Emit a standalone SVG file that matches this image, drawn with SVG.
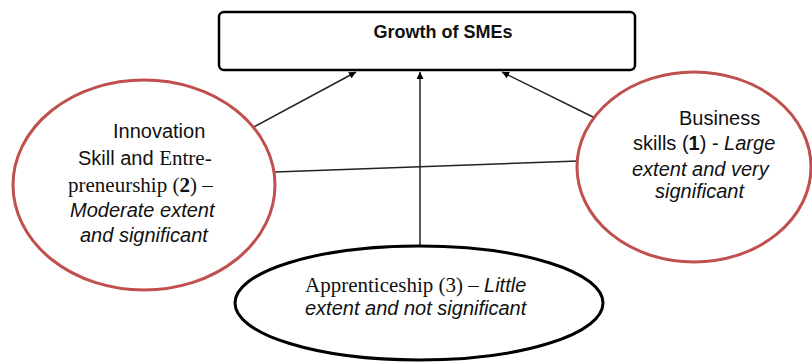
<svg xmlns="http://www.w3.org/2000/svg" width="812" height="363" viewBox="0 0 812 363">
<defs>
<style>
.sans{font-family:"Liberation Sans",Arial,sans-serif;font-size:20px;fill:#111}
.serif{font-family:"Liberation Serif","Times New Roman",serif;font-size:21px;fill:#111}
.it{font-style:italic}
.b{font-weight:bold}
.red{fill:#fff;stroke:#c0504d;stroke-width:3}
.blk{fill:#fff;stroke:#000;stroke-width:3}
.conn{stroke:#222;stroke-width:1.5;fill:none}
</style>
<marker id="arr" viewBox="0 0 10 10" refX="10" refY="5" markerWidth="7" markerHeight="7" markerUnits="userSpaceOnUse" orient="auto">
<path d="M0,0 L10,5 L0,10 z" fill="#000"/>
</marker>
</defs>
<rect width="812" height="363" fill="#fff"/>
<g id="connectors">
<line class="conn" x1="252" y1="128" x2="356" y2="72" marker-end="url(#arr)"/>
<line class="conn" x1="420" y1="246" x2="420" y2="72" marker-end="url(#arr)"/>
<line class="conn" x1="595" y1="118" x2="502" y2="72" marker-end="url(#arr)"/>
<line class="conn" x1="275" y1="172" x2="578" y2="161"/>
</g>
<g id="growth">
<rect x="219" y="12" width="416" height="58" rx="5" fill="#fff" stroke="#000" stroke-width="2.5"/>
<text class="sans b" x="443" y="38" text-anchor="middle" style="font-size:18px">Growth of SMEs</text>
</g>
<g id="innovation">
<ellipse class="red" cx="144" cy="185" rx="131" ry="105"/>
<text class="sans" x="113" y="138">Innovation</text>
<text x="78" y="165"><tspan class="sans">Skill and </tspan><tspan class="serif">Entre-</tspan></text>
<text class="serif" x="68" y="192">preneurship (<tspan class="b">2</tspan>) –</text>
<text class="sans it" x="70" y="217">Moderate extent</text>
<text class="sans it" x="80" y="242">and significant</text>
</g>
<g id="business">
<ellipse class="red" cx="694" cy="167" rx="117" ry="95"/>
<text class="sans" x="679" y="125">Business</text>
<text class="sans" x="633" y="150">skills (<tspan class="b">1</tspan>) - <tspan class="it">Large</tspan></text>
<text class="sans it" x="632" y="176">extent and very</text>
<text class="sans it" x="655" y="198">significant</text>
</g>
<g id="apprenticeship">
<ellipse class="blk" cx="419" cy="303" rx="184" ry="57"/>
<text x="305" y="292"><tspan class="serif">Apprenticeship (3) – </tspan><tspan class="sans it">Little</tspan></text>
<text class="sans it" x="305" y="315">extent and not significant</text>
</g>
</svg>
